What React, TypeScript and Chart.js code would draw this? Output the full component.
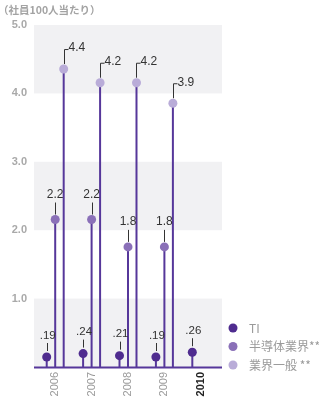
import React, { useEffect, useRef } from 'react';
import { Chart, registerables } from 'chart.js';

Chart.register(...registerables);

// ---- data ----
const years = ['2006', '2007', '2008', '2009', '2010'];
const tiValues = [0.19, 0.24, 0.21, 0.19, 0.26];
const semiValues = [2.2, 2.2, 1.8, 1.8, null];
const generalValues = [4.4, 4.2, 4.2, 3.9, null];
const seriesNames = ['TI', '半導体業界**', '業界一般 **'];
const yTickValues = [1, 2, 3, 4, 5];
const shadedBands = [[0, 1], [2, 3], [4, 5]];
const unitLabel = '（社員100人当たり）';

// ---- styles ----
const dotColors = ['#4f2c8f', '#8a70b8', '#b9acd8'];
const stemColor = '#56379a';
const latin = '"Liberation Sans", Arial, sans-serif';
const cjk = '"Noto Sans CJK JP", "Liberation Sans", sans-serif';

function fmt(di: number, v: number) {
  if (di === 0) return v.toFixed(2).replace(/^0/, '');
  return v.toFixed(1);
}

const decorPlugin = {
  id: 'decor',
  beforeDatasetsDraw(chart: any) {
    const { ctx, chartArea: a, scales } = chart;
    const y = scales.y;
    ctx.save();
    ctx.fillStyle = '#f1f1f3';
    for (const [lo, hi] of shadedBands) {
      const top = y.getPixelForValue(hi);
      const bot = y.getPixelForValue(lo);
      ctx.fillRect(a.left - 3, top, a.right - a.left + 6, bot - top);
    }
    ctx.fillStyle = '#a3a3a3';
    ctx.font = 'bold 10.5px ' + cjk;
    ctx.textAlign = 'left';
    ctx.textBaseline = 'middle';
    ctx.fillText(unitLabel, -2, 10);
    ctx.restore();
  },
  afterDatasetsDraw(chart: any) {
    const { ctx, chartArea: a, scales } = chart;
    const y = scales.y;
    const y0 = y.getPixelForValue(0);
    ctx.save();
    ctx.strokeStyle = stemColor;
    ctx.lineWidth = 2;
    ctx.beginPath();
    ctx.moveTo(a.left - 3, y0 + 0.5);
    ctx.lineTo(a.right + 3, y0 + 0.5);
    ctx.stroke();

    chart.data.datasets.forEach((ds: any, di: number) => {
      const meta = chart.getDatasetMeta(di);
      meta.data.forEach((bar: any, i: number) => {
        const v = ds.data[i];
        if (v == null) return;
        const cx = bar.x;
        const cy = bar.y + 3;
        ctx.fillStyle = dotColors[di];
        ctx.beginPath();
        ctx.arc(cx, cy, 4.5, 0, Math.PI * 2);
        ctx.fill();

        const txt = fmt(di, v);
        const lx = Math.round(cx) + 0.5;
        ctx.strokeStyle = '#333';
        ctx.fillStyle = '#333';
        ctx.lineWidth = 1;
        ctx.textBaseline = 'middle';
        if (di === 2) {
          ctx.beginPath();
          ctx.moveTo(lx, cy - 5);
          ctx.lineTo(lx, cy - 19.5);
          ctx.lineTo(lx + 4, cy - 19.5);
          ctx.stroke();
          ctx.font = '12px ' + latin;
          ctx.textAlign = 'left';
          ctx.fillText(txt, lx + 4, cy - 21);
        } else if (di === 1) {
          ctx.beginPath();
          ctx.moveTo(lx, cy - 5);
          ctx.lineTo(lx, cy - 17);
          ctx.stroke();
          ctx.font = '12px ' + latin;
          ctx.textAlign = 'center';
          ctx.fillText(txt, cx, cy - 25);
        } else {
          ctx.beginPath();
          ctx.moveTo(lx, cy - 6);
          ctx.lineTo(lx, cy - 14);
          ctx.stroke();
          ctx.font = '11.5px ' + latin;
          ctx.textAlign = 'center';
          ctx.fillText(txt, cx + 1, cy - 21.5);
        }
      });
    });

    // legend
    chart.data.datasets.forEach((ds: any, di: number) => {
      const ly = 328 + di * 18.5;
      ctx.fillStyle = dotColors[di];
      ctx.beginPath();
      ctx.arc(233, ly, 4.5, 0, Math.PI * 2);
      ctx.fill();
      ctx.fillStyle = '#9a9a9a';
      ctx.font = '12px ' + cjk;
      ctx.textAlign = 'left';
      ctx.textBaseline = 'middle';
      ctx.fillText(ds.label, 249, ly);
    });
    ctx.restore();
  },
};

export default function App() {
  const ref = useRef<HTMLCanvasElement | null>(null);
  useEffect(() => {
    if (!ref.current) return;
    const chart = new Chart(ref.current, {
      type: 'bar',
      data: {
        labels: years,
        datasets: [
          { label: seriesNames[0], data: tiValues, backgroundColor: stemColor, maxBarThickness: 2 },
          { label: seriesNames[1], data: semiValues, backgroundColor: stemColor, maxBarThickness: 2 },
          { label: seriesNames[2], data: generalValues, backgroundColor: stemColor, maxBarThickness: 2 },
        ] as any,
      },
      options: {
        responsive: false,
        animation: false,
        layout: { padding: { top: 25, right: 100, left: 0, bottom: 0 } },
        datasets: { bar: { categoryPercentage: 0.7, barPercentage: 1 } } as any,
        plugins: { legend: { display: false }, tooltip: { enabled: false } },
        scales: {
          x: {
            grid: { display: false, drawTicks: false },
            border: { display: false },
            ticks: {
              minRotation: 90,
              maxRotation: 90,
              padding: 5,
              autoSkip: false,
              font: (c: any) => ({ family: latin, size: 11, weight: c.index === 4 ? 'bold' : 'normal' }),
              color: (c: any) => (c.index === 4 ? '#222' : '#9a9a9a'),
            },
            afterFit: (s: any) => { s.height = 36; },
          } as any,
          y: {
            min: 0,
            max: 5,
            grid: { display: false, drawTicks: false },
            border: { display: false },
            afterBuildTicks: (s: any) => { s.ticks = yTickValues.map((v) => ({ value: v })); },
            ticks: {
              padding: 10,
              color: '#a9a9a9',
              font: { family: latin, size: 11, weight: 'bold' },
              callback: (v: any) => Number(v).toFixed(1),
            },
            afterFit: (s: any) => { s.width = 37; },
          } as any,
        },
      },
      plugins: [decorPlugin],
    });
    return () => chart.destroy();
  }, []);
  return (
    <div style={{ position: 'absolute', left: 0, top: 0, width: 319, height: 403, background: '#fff' }}>
      <canvas ref={ref} width={319} height={403} />
    </div>
  );
}
